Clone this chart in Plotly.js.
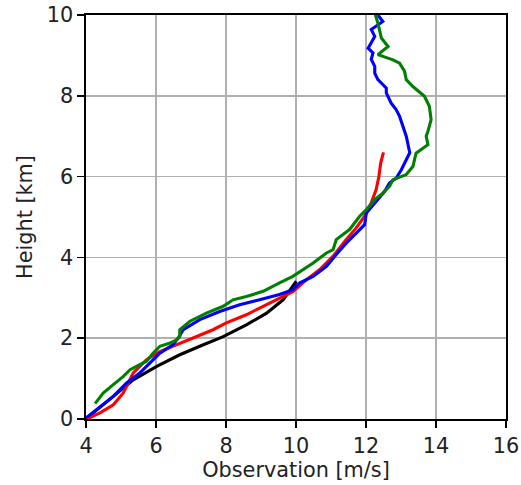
<!DOCTYPE html>
<html>
<head>
<meta charset="utf-8">
<script src="https://cdn.plot.ly/plotly-3.0.1.min.js"></script>
<style>html,body{margin:0;padding:0;background:#fff;}#chart{width:521px;height:485px;}</style>
</head>
<body>
<div id="chart"></div>
<script>
// Black profile
var blackX = [4.0, 4.02, 4.78, 5.35, 6.02, 6.68, 7.25, 7.92, 8.58, 9.16, 9.63, 9.92, 10.01];
var blackY = [0.0, 0.02, 0.56, 0.97, 1.30, 1.59, 1.80, 2.04, 2.33, 2.62, 2.95, 3.28, 3.41];

// Red profile
var redX = [4.02, 4.40, 4.78, 5.06, 5.35, 5.73, 6.11, 6.59, 7.06, 7.63, 8.01, 8.58, 9.06, 9.53, 9.92, 10.30, 10.68, 11.06, 11.43, 11.72, 11.96, 12.15, 12.29, 12.37, 12.42, 12.50];
var redY = [0.0, 0.15, 0.35, 0.64, 1.14, 1.47, 1.67, 1.84, 2.00, 2.21, 2.38, 2.58, 2.79, 2.99, 3.16, 3.45, 3.70, 4.03, 4.44, 4.73, 5.02, 5.35, 5.68, 6.01, 6.34, 6.60];

// Blue profile
var blueX = [4.02, 4.40, 4.78, 5.16, 5.54, 5.83, 6.11, 6.49, 6.63, 6.78, 7.25, 7.82, 8.39, 8.96, 9.53, 9.91, 10.11, 10.49, 10.87, 11.15, 11.44, 11.72, 11.96, 12.01, 12.25, 12.44, 12.53, 12.67, 12.86, 13.01, 13.15, 13.25, 13.15, 13.05, 12.96, 12.86, 12.72, 12.58, 12.58, 12.48, 12.34, 12.25, 12.25, 12.15, 12.20, 12.06, 12.25, 12.15, 12.48, 12.34];
var blueY = [0.04, 0.31, 0.56, 0.89, 1.14, 1.39, 1.63, 1.84, 2.00, 2.21, 2.46, 2.66, 2.83, 2.95, 3.08, 3.20, 3.37, 3.53, 3.78, 4.07, 4.36, 4.60, 4.81, 5.10, 5.35, 5.55, 5.63, 5.84, 5.96, 6.17, 6.42, 6.59, 7.00, 7.24, 7.49, 7.66, 7.82, 8.07, 8.19, 8.28, 8.40, 8.56, 8.73, 8.90, 9.06, 9.18, 9.47, 9.64, 9.84, 10.0];

// Green profile
var greenX = [4.26, 4.49, 4.78, 5.06, 5.26, 5.54, 5.73, 5.92, 6.11, 6.40, 6.59, 6.68, 6.68, 6.97, 7.44, 7.92, 8.20, 8.58, 9.06, 9.53, 9.91, 10.49, 10.87, 11.06, 11.15, 11.53, 11.82, 12.01, 12.25, 12.48, 12.67, 12.77, 13.15, 13.34, 13.43, 13.77, 13.72, 13.77, 13.86, 13.81, 13.67, 13.34, 13.15, 13.10, 12.96, 12.77, 12.34, 12.63, 12.44, 12.34, 12.25];
var greenY = [0.38, 0.64, 0.85, 1.05, 1.22, 1.34, 1.43, 1.63, 1.80, 1.88, 1.96, 2.04, 2.21, 2.42, 2.62, 2.79, 2.95, 3.03, 3.16, 3.37, 3.53, 3.86, 4.11, 4.19, 4.44, 4.69, 5.02, 5.18, 5.43, 5.59, 5.76, 5.92, 6.05, 6.25, 6.58, 6.79, 7.00, 7.12, 7.41, 7.74, 7.99, 8.23, 8.40, 8.61, 8.81, 8.89, 9.02, 9.22, 9.43, 9.80, 10.05];

var xTicks = [4, 6, 8, 10, 12, 14, 16];
var yTicks = [0, 2, 4, 6, 8, 10];

var lw = 3.1;
var traces = [
  {x: blackX, y: blackY, mode: 'lines', line: {color: 'black', width: lw}},
  {x: redX, y: redY, mode: 'lines', line: {color: 'red', width: lw}},
  {x: blueX, y: blueY, mode: 'lines', line: {color: 'blue', width: lw}},
  {x: greenX, y: greenY, mode: 'lines', line: {color: 'green', width: lw}}
];

var fontFam = 'DejaVu Sans, sans-serif';
var fs = 20.8;
var layout = {
  width: 521, height: 485,
  margin: {l: 86, r: 15, t: 15, b: 66},
  showlegend: false,
  paper_bgcolor: 'white', plot_bgcolor: 'white',
  font: {family: fontFam, size: fs, color: '#222'},
  xaxis: {
    range: [4, 16], tickvals: xTicks, ticktext: xTicks.map(String),
    tickfont: {family: fontFam, size: fs, color: '#222'},
    showgrid: true, gridcolor: '#b0b0b0', gridwidth: 1.6,
    showline: true, linecolor: 'black', linewidth: 1.6, mirror: true,
    ticks: 'outside', ticklen: 7, tickwidth: 1.6, tickcolor: 'black', zeroline: false,
    title: {text: 'Observation [m/s]', font: {family: fontFam, size: fs, color: '#222'}, standoff: 4}
  },
  yaxis: {
    range: [0, 10], tickvals: yTicks, ticktext: yTicks.map(String),
    tickfont: {family: fontFam, size: fs, color: '#222'},
    showgrid: true, gridcolor: '#b0b0b0', gridwidth: 1.6,
    showline: true, linecolor: 'black', linewidth: 1.6, mirror: true,
    ticks: 'outside', ticklen: 7, tickwidth: 1.6, tickcolor: 'black', zeroline: false,
    title: {text: 'Height [km]', font: {family: fontFam, size: fs, color: '#222'}, standoff: 8}
  }
};
Plotly.newPlot('chart', traces, layout, {displayModeBar: false, staticPlot: true});
</script>
</body>
</html>
